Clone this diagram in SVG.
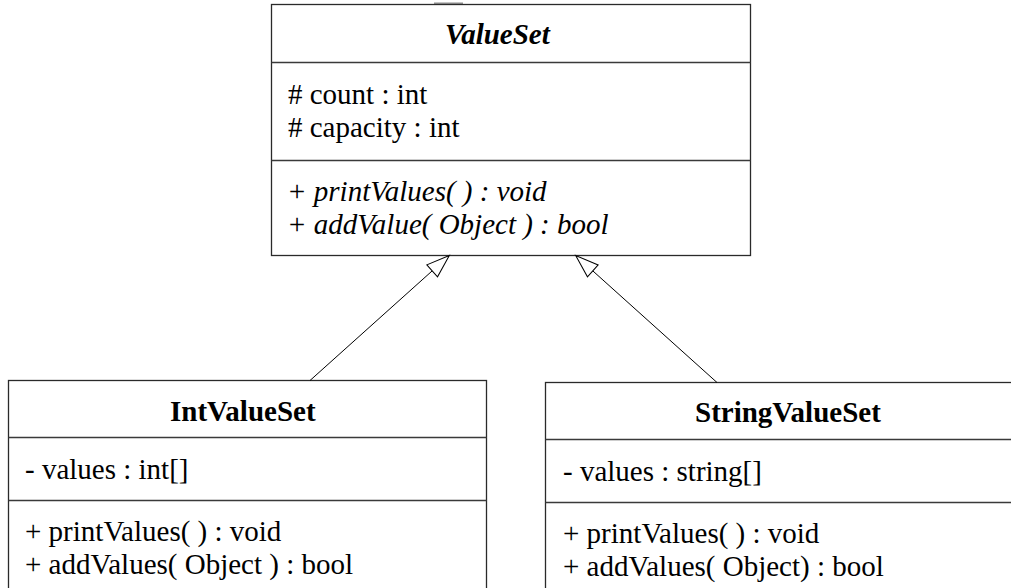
<svg xmlns="http://www.w3.org/2000/svg" width="1011" height="588" viewBox="0 0 1011 588">
  <style>
    .box { fill: #ffffff; stroke: #2a2a2a; stroke-width: 1.3; }
    .div { stroke: #3a3a3a; stroke-width: 1.3; fill: none; }
    .txt { font-family: "Liberation Serif", "Times New Roman", serif; font-size: 29px; fill: #000000; }
    .title { font-weight: bold; }
    .ital { font-style: italic; }
    .conn { stroke: #000000; stroke-width: 1; fill: none; marker-end: url(#gen); }
  </style>
  <defs>
    <!-- hollow generalization head -->
    <marker id="gen" markerUnits="userSpaceOnUse" markerWidth="40" markerHeight="40" refX="0" refY="0" orient="auto" overflow="visible">
      <path d="M0,0 L-23,-8 L-23,8 Z" fill="#ffffff" stroke="#000000" stroke-width="1"/>
    </marker>
  </defs>

  <rect x="0" y="0" width="1011" height="588" fill="#ffffff"/>

  <!-- abstract base class -->
  <g id="ValueSet">
    <line x1="434" y1="3.2" x2="463" y2="3.2" stroke="#8a8a8a" stroke-width="1.4"/>
    <rect class="box" x="271.5" y="4.5" width="479" height="251"/>
    <line class="div" x1="271.5" y1="62.5" x2="750.5" y2="62.5"/>
    <line class="div" x1="271.5" y1="160.5" x2="750.5" y2="160.5"/>
    <text class="txt title ital" x="445" y="44">ValueSet</text>
    <text class="txt" x="288" y="104"># count : int</text>
    <text class="txt" x="288" y="137"># capacity : int</text>
    <text class="txt ital" x="287" y="201">+ printValues( ) : void</text>
    <text class="txt ital" x="287" y="234">+ addValue( Object ) : bool</text>
  </g>

  <!-- integer subclass -->
  <g id="IntValueSet">
    <rect class="box" x="8.5" y="380.5" width="478" height="240"/>
    <line class="div" x1="8.5" y1="437.5" x2="486.5" y2="437.5"/>
    <line class="div" x1="8.5" y1="500.5" x2="486.5" y2="500.5"/>
    <text class="txt title" x="170" y="421">IntValueSet</text>
    <text class="txt" x="25" y="479">- values : int[]</text>
    <text class="txt" x="25" y="541">+ printValues( ) : void</text>
    <text class="txt" x="25" y="574">+ addValues( Object ) : bool</text>
  </g>

  <!-- string subclass -->
  <g id="StringValueSet">
    <rect class="box" x="545.5" y="382.5" width="479" height="240"/>
    <line class="div" x1="545.5" y1="439.5" x2="1024.5" y2="439.5"/>
    <line class="div" x1="545.5" y1="502.5" x2="1024.5" y2="502.5"/>
    <text class="txt title" x="695" y="422">StringValueSet</text>
    <text class="txt" x="563" y="481">- values : string[]</text>
    <text class="txt" x="563" y="543">+ printValues( ) : void</text>
    <text class="txt" x="563" y="576">+ addValues( Object) : bool</text>
  </g>

  <!-- inheritance connectors -->
  <g id="connectors">
    <line class="conn" x1="310" y1="380.5" x2="449.3" y2="255.5"/>
    <line class="conn" x1="717" y1="382.5" x2="575.7" y2="255.5"/>
  </g>
</svg>
